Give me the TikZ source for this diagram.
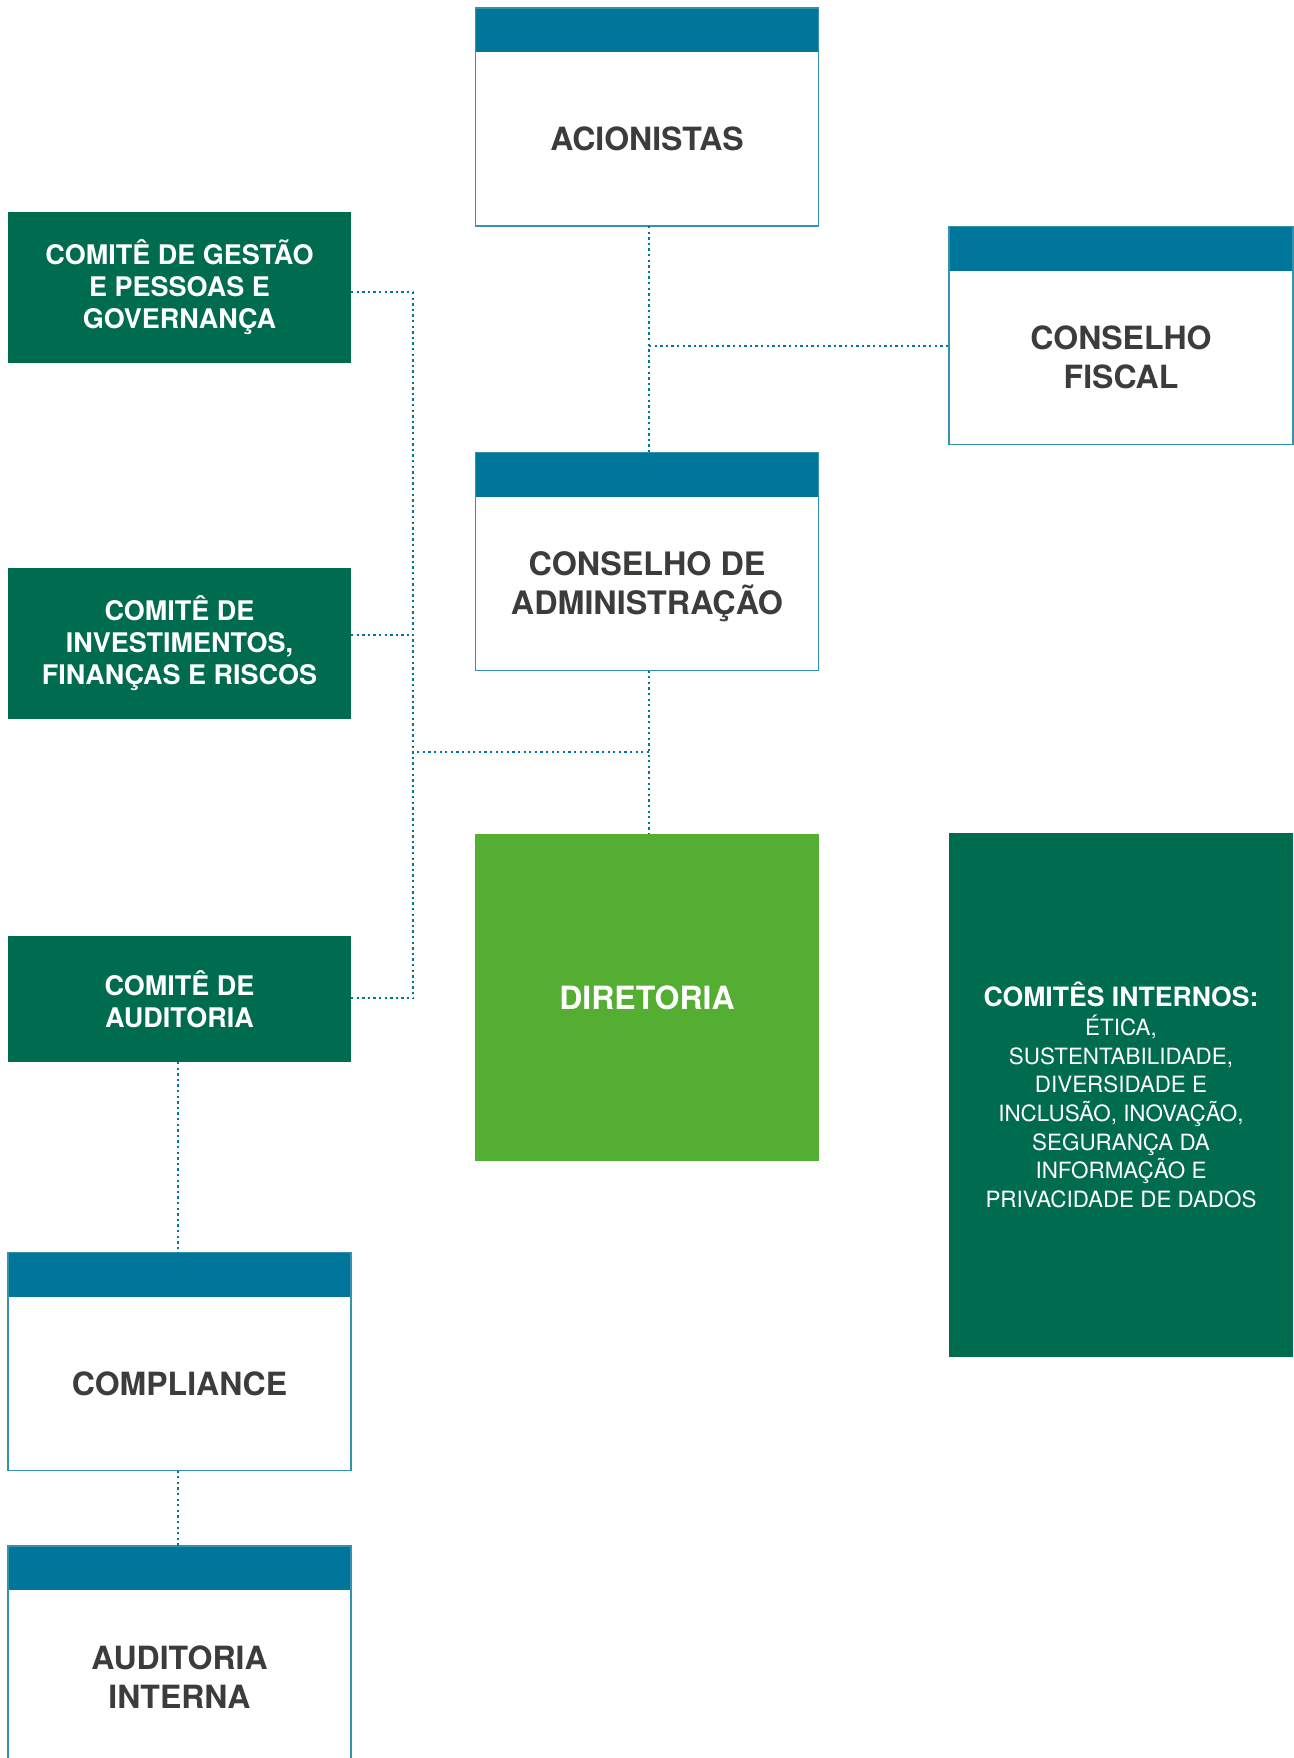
\documentclass[tikz,border=0pt]{standalone}
\usepackage{fontspec}
\setmainfont{TeX Gyre Heros}
\definecolor{hdr}{RGB}{0,119,154}
\definecolor{bordc}{RGB}{52,146,176}
\definecolor{dgreen}{RGB}{0,108,79}
\definecolor{lgreen}{RGB}{83,174,50}
\definecolor{dtext}{RGB}{60,60,59}
\begin{document}
\begin{tikzpicture}[x=1pt,y=-1pt,
  hbox/.style={draw=bordc, line width=1.4pt, fill=white, minimum width=343pt, minimum height=218pt, inner sep=0pt, outer sep=0pt,
    path picture={\fill[hdr] ([xshift=-2pt,yshift=2pt]path picture bounding box.north west) rectangle ([xshift=2pt,yshift=-44pt]path picture bounding box.north east);}},
  gbox/.style={fill=dgreen, minimum width=343pt, inner sep=0pt, outer sep=0pt, text=white, align=center, font=\bfseries\fontsize{27}{32}\selectfont},
  dtxt/.style={text=dtext, align=center, font=\bfseries\fontsize{32}{38.5}\selectfont},
  conn/.style={draw=hdr, line width=2.3pt, dash pattern=on 2.3pt off 3.3pt}
]
\useasboundingbox (0,0) rectangle (1293,1758);

% boxes with header
\node[hbox] (acion) at (647,117) {};
\node[dtxt] (acionT) at ([yshift=-22pt]acion.center) {ACIONISTAS};
\node[hbox, minimum width=344pt] (fiscal) at (1121,335.5) {};
\node[dtxt] (fiscalT) at ([yshift=-22pt]fiscal.center) {CONSELHO\\FISCAL};
\node[hbox] (cadm) at (647,561.5) {};
\node[dtxt, font=\bfseries\fontsize{32.3}{38.5}\selectfont] (cadmT) at ([yshift=-25pt]cadm.center) {CONSELHO DE\\ADMINISTRAÇÃO};
\node[hbox] (compl) at (179.5,1361.5) {};
\node[dtxt] (complT) at ([yshift=-22pt]compl.center) {COMPLIANCE};
\node[hbox] (audint) at (179.5,1655) {};
\node[dtxt] (audintT) at ([yshift=-22pt]audint.center) {AUDITORIA\\INTERNA};

% green boxes
\node[gbox, minimum height=151pt] (cgestao) at (179.5,287.5) {COMITÊ DE GESTÃO\\E PESSOAS E\\GOVERNANÇA};
\node[gbox, minimum height=151pt] (cinvest) at (179.5,643.5) {COMITÊ DE\\INVESTIMENTOS,\\FINANÇAS E RISCOS};
\node[gbox, minimum height=126pt] (caudit) at (179.5,999) {COMITÊ DE\\AUDITORIA};
\node[gbox, fill=lgreen, minimum width=344pt, minimum height=327pt, font=\bfseries\fontsize{32}{38}\selectfont] (diret) at (647,997.5) {DIRETORIA};
\node[gbox, minimum width=344pt, minimum height=524pt, font=\fontsize{22.4}{28.7}\selectfont] (intern) at (1121,1095)
  {{\bfseries\fontsize{26.6}{28.7}\selectfont COMITÊS INTERNOS:}\\ÉTICA,\\SUSTENTABILIDADE,\\DIVERSIDADE E\\INCLUSÃO, INOVAÇÃO,\\SEGURANÇA DA\\INFORMAÇÃO E\\PRIVACIDADE DE DADOS};

% junction coordinates
\coordinate (jf) at (649,346);
\coordinate (jd) at (649,752);
\coordinate (bt) at (413,292);
\coordinate (bm) at (413,752);
\coordinate (bb) at (413,998);

% connectors
\draw[conn] ([xshift=2pt]acion.south) -- ([xshift=2pt]cadm.north);
\draw[conn] (jf) -- (jf -| fiscal.west);
\draw[conn] ([xshift=2pt]cadm.south) -- ([xshift=2pt]diret.north);
\draw[conn] (jd) -- (bm);
\draw[conn] (bt) -- (bb);
\draw[conn] ([yshift=-4.5pt]cgestao.east) -- (bt);
\draw[conn] ([yshift=8.5pt]cinvest.east) -- (413,635);
\draw[conn] ([yshift=1pt]caudit.east) -- (bb);
\draw[conn] ([xshift=-1.5pt]caudit.south) -- ([xshift=-1.5pt]compl.north);
\draw[conn] ([xshift=-1.5pt]compl.south) -- ([xshift=-1.5pt]audint.north);
\end{tikzpicture}
\end{document}
